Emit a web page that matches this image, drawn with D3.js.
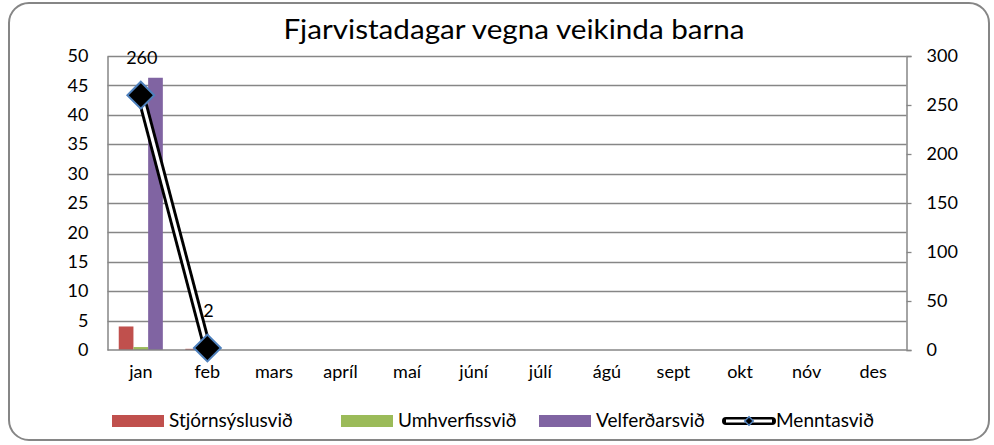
<!DOCTYPE html>
<html><head><meta charset="utf-8">
<script src="https://cdn.jsdelivr.net/npm/d3@7"></script>
<style>body{margin:0;background:#fff;} text{font-family:Lato,"Open Sans",sans-serif;fill:#000;}</style>
</head><body>
<svg id="c" width="994" height="445"></svg>
<script>
const categories = ["jan","feb","mars","apríl","maí","júní","júlí","ágú","sept","okt","nóv","des"];
const stjornsyslusvid = [4, 0.2, null, null, null, null, null, null, null, null, null, null];
const umhverfissvid = [0.5, 0, null, null, null, null, null, null, null, null, null, null];
const velferdarsvid = [46.3, 0, null, null, null, null, null, null, null, null, null, null];
const menntasvid = [260, 2];
const leftTicks = [0,5,10,15,20,25,30,35,40,45,50];
const rightTicks = [0,50,100,150,200,250,300];
const seriesNames = ["Stjórnsýslusvið","Umhverfissvið","Velferðarsvið","Menntasvið"];
const colors = ["#c0504d","#9bbb59","#8064a2"];

const svg = d3.select("#c");
const L = 107.5, R = 906.5, T = 56, B = 350;

function stretch(sel, k){
  sel.each(function(){
    const len = this.getComputedTextLength();
    d3.select(this).attr("textLength", len*k).attr("lengthAdjust","spacingAndGlyphs");
  });
}

// border
svg.append("rect").attr("x",9).attr("y",3).attr("width",980).attr("height",437)
  .attr("rx",20).attr("ry",20).attr("fill","#fff").attr("stroke","#868686").attr("stroke-width",2);

const title = svg.append("text").attr("x",514).attr("y",39).attr("text-anchor","middle")
  .style("font-size","26px").text("Fjarvistadagar vegna veikinda barna");
stretch(title, 1.14);

const x = d3.scaleBand().domain(categories).range([L,R]).paddingInner(0).paddingOuter(0);
const yL = d3.scaleLinear().domain([0,50]).range([B,T]);
const yR = d3.scaleLinear().domain([0,300]).range([B,T]);

// gridlines
svg.append("g").selectAll("line").data(leftTicks.slice(1)).join("line")
  .attr("x1",L).attr("x2",R).attr("y1",d=>Math.round(yL(d))+0.5).attr("y2",d=>Math.round(yL(d))+0.5)
  .attr("stroke","#868686").attr("stroke-width",1.3);

// bars
const bw = 14.7;
const groupW = bw*3;
const sers = [stjornsyslusvid, umhverfissvid, velferdarsvid];
sers.forEach((s,si)=>{
  svg.append("g").selectAll("rect").data(categories.map((c,i)=>({c,v:s[i]})).filter(d=>d.v!=null && d.v>0))
    .join("rect")
    .attr("x",d=>x(d.c)+x.bandwidth()/2-groupW/2+si*bw)
    .attr("width",bw)
    .attr("y",d=>yL(d.v)).attr("height",d=>B-yL(d.v))
    .attr("fill",colors[si]);
});

// axes
const axL = d3.axisLeft(yL).tickValues(leftTicks).tickSize(0).tickPadding(19);
const gL = svg.append("g").attr("transform",`translate(${L},0)`).call(axL);
gL.select(".domain").attr("stroke","#868686").attr("stroke-width",1.5);
gL.selectAll("text").style("font-size","18px").style("font-family","Lato");

const axR = d3.axisRight(yR).tickValues(rightTicks).tickSize(5).tickPadding(15);
const gR = svg.append("g").attr("transform",`translate(${R},0)`).call(axR);
gR.select(".domain").attr("stroke","#868686").attr("stroke-width",1.5);
gR.selectAll(".tick line").attr("stroke","#868686").attr("stroke-width",1.3);
gR.selectAll("text").style("font-size","18px").style("font-family","Lato");

svg.append("line").attr("x1",L).attr("x2",R).attr("y1",B).attr("y2",B).attr("stroke","#868686").attr("stroke-width",1.5);

const axB = d3.axisBottom(x).tickSize(0).tickPadding(15);
const gB = svg.append("g").attr("transform",`translate(0,${B})`).call(axB);
gB.select(".domain").remove();
gB.selectAll("text").style("font-size","18px").style("font-family","Lato");

// line
const pts = menntasvid.map((v,i)=>[x(categories[i])+x.bandwidth()/2, yR(v)]);
const line = d3.line();
svg.append("path").attr("d",line(pts)).attr("fill","none").attr("stroke","#000").attr("stroke-width",9);
svg.append("path").attr("d",line(pts)).attr("fill","none").attr("stroke","#fff").attr("stroke-width",3.2);
svg.append("g").selectAll("path").data(pts).join("path")
  .attr("transform",d=>`translate(${d[0]},${d[1]}) rotate(45)`)
  .attr("d",d3.symbol().type(d3.symbolSquare).size(360))
  .attr("fill","#000").attr("stroke","#4f81bd").attr("stroke-width",2);
// data labels
svg.append("g").selectAll("text").data(menntasvid).join("text")
  .attr("x",(d,i)=>pts[i][0]+1).attr("y",(d,i)=>pts[i][1]-31)
  .attr("text-anchor","middle").style("font-size","18px").text(d=>d);

// legend
const lg = svg.append("g");
const legX = [112, 341, 539, 723];
[0,1,2].forEach(i=>{
  lg.append("rect").attr("x",legX[i]).attr("y",415).attr("width",52).attr("height",12).attr("fill",colors[i]);
  lg.append("text").attr("x",legX[i]+57).attr("y",427).style("font-size","19px").text(seriesNames[i]);
});
lg.append("line").attr("x1",legX[3]+3).attr("x2",legX[3]+49).attr("y1",421).attr("y2",421).attr("stroke","#000").attr("stroke-width",8).attr("stroke-linecap","round");
lg.append("line").attr("x1",legX[3]+3).attr("x2",legX[3]+49).attr("y1",421).attr("y2",421).attr("stroke","#fff").attr("stroke-width",3);
lg.append("path").attr("transform",`translate(${legX[3]+26},421) rotate(45)`).attr("d",d3.symbol().type(d3.symbolSquare).size(36))
  .attr("fill","#000").attr("stroke","#4f81bd").attr("stroke-width",1.5);
lg.append("text").attr("x",legX[3]+53).attr("y",427).style("font-size","19px").text(seriesNames[3]);
</script>
</body></html>
